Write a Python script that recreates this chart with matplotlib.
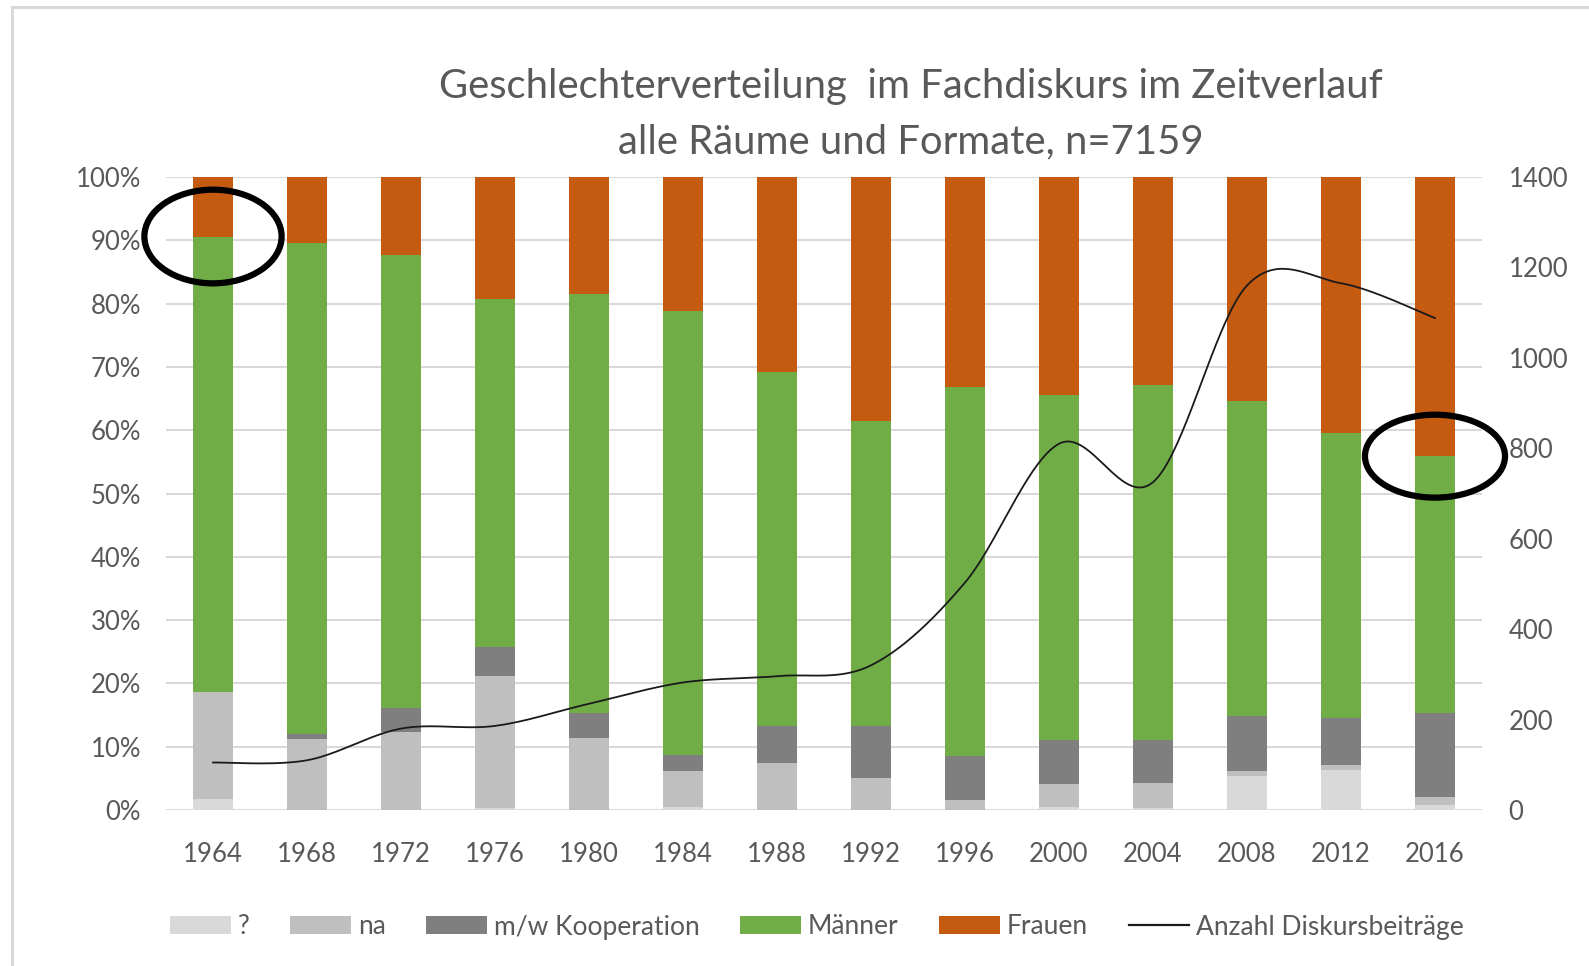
import numpy as np
import matplotlib
matplotlib.use("Agg")
import matplotlib.pyplot as plt
from matplotlib.patches import Ellipse, Patch
from matplotlib.lines import Line2D

# ---------------- data ----------------
years = ["1964", "1968", "1972", "1976", "1980", "1984", "1988",
         "1992", "1996", "2000", "2004", "2008", "2012", "2016"]
unknown = [1.7, 0.0, 0.0, 0.3, 0.0, 0.5, 0.0, 0.0, 0.0, 0.5, 0.3, 5.3, 6.3, 0.8]
na = [16.9, 11.2, 12.3, 20.8, 11.3, 5.7, 7.5, 5.0, 1.6, 3.6, 4.0, 0.9, 0.8, 1.2]
koop = [0.0, 0.8, 3.8, 4.7, 4.0, 2.5, 5.8, 8.3, 6.9, 6.9, 6.8, 8.6, 7.4, 13.3]
maenner = [72.0, 77.5, 71.6, 55.0, 66.2, 70.2, 55.9, 48.2, 58.4, 54.6, 56.0, 49.8, 45.1, 40.6]
frauen = [9.4, 10.5, 12.3, 19.2, 18.5, 21.1, 30.8, 38.5, 33.1, 34.4, 32.9, 35.4, 40.4, 44.1]
anzahl = [105, 110, 180, 186, 235, 282, 296, 320, 503, 810, 725, 1160, 1165, 1088]

series_names = ["?", "na", "m/w Kooperation", "Männer", "Frauen"]
line_name = "Anzahl Diskursbeiträge"
title = "Geschlechterverteilung  im Fachdiskurs im Zeitverlauf\nalle Räume und Formate, n=7159"

colors = ["#D9D9D9", "#BFBFBF", "#7F7F7F", "#70AD47", "#C55A11"]
text_col = "#595959"
grid_col = "#D9D9D9"

plt.rcParams['font.family'] = ['Lato', 'DejaVu Sans']

W, H = 1589, 966
fig = plt.figure(figsize=(W / 100, H / 100), dpi=100)
ax = fig.add_axes([166 / W, 1 - 810 / H, (1482 - 166) / W, (810 - 177) / H])

x = np.arange(len(years))
bw = 0.43
bottom = np.zeros(len(years))
handles = []
for vals, c, name in zip([unknown, na, koop, maenner, frauen], colors, series_names):
    v = np.array(vals, dtype=float)
    ax.bar(x, v, bw, bottom=bottom, color=c, zorder=2, linewidth=0)
    bottom += v
    handles.append(Patch(facecolor=c, edgecolor='none', label=name))

ax.set_xlim(-0.5, len(years) - 0.5)
ax.set_ylim(0, 100)
ax.set_yticks(np.arange(0, 101, 10))
ax.set_yticklabels([f"{v}%" for v in range(0, 101, 10)])
ax.set_xticks(x)
ax.set_xticklabels(years)
ax.yaxis.grid(True, color=grid_col, linewidth=1.5, zorder=0)
ax.set_axisbelow(True)
for s in ax.spines.values():
    s.set_visible(False)
ax.tick_params(axis='y', length=0, pad=18, labelsize=18.5, labelcolor=text_col)
ax.tick_params(axis='x', length=0, pad=23, labelsize=18.5, labelcolor=text_col)

# secondary axis with smoothed line
ax2 = ax.twinx()
ax2.set_ylim(0, 1400)
ax2.set_yticks(np.arange(0, 1401, 200))
for s in ax2.spines.values():
    s.set_visible(False)
ax2.tick_params(axis='y', length=0, pad=19, labelsize=18.5, labelcolor=text_col)


def catmull_rom(xs, ys, n=40):
    xs = np.asarray(xs, float)
    ys = np.asarray(ys, float)
    P = np.column_stack([xs, ys])
    P = np.vstack([P[0], P, P[-1]])
    out = []
    t = np.linspace(0, 1, n)
    for i in range(1, len(P) - 2):
        p0, p1, p2, p3 = P[i - 1], P[i], P[i + 1], P[i + 2]
        c1 = p1 + (p2 - p0) / 6.0
        c2 = p2 - (p3 - p1) / 6.0
        tt = t[:, None]
        seg = ((1 - tt) ** 3) * p1 + 3 * ((1 - tt) ** 2) * tt * c1 + 3 * (1 - tt) * tt ** 2 * c2 + tt ** 3 * p2
        out.append(seg if i == 1 else seg[1:])
    return np.vstack(out)


curve = catmull_rom(x, anzahl)
ax2.plot(curve[:, 0], curve[:, 1], color="#1a1a1a", linewidth=1.3, zorder=3)
handles.append(Line2D([0], [0], color="#1a1a1a", linewidth=1.6, label=line_name))

# annotation ellipses (hand-drawn marks in the reference)
top_m = np.cumsum(np.array([unknown, na, koop, maenner]), axis=0)[-1]
for idx, w_, h_ in [(0, 1.46, 14.8), (len(years) - 1, 1.49, 13.1)]:
    e = Ellipse((x[idx], top_m[idx]), w_, h_, transform=ax.transData,
                fill=False, edgecolor="black", linewidth=4.5, zorder=10, clip_on=False)
    ax2.add_patch(e)

fig.text(911 / W, 1 - 114 / H, title, ha='center', va='center', fontsize=28.8,
         color=text_col, linespacing=1.6)

leg = fig.legend(handles=handles, loc='center', bbox_to_anchor=(817 / W, 1 - 927 / H),
                 ncol=6, frameon=False, fontsize=19, handlelength=2.3, handleheight=0.65,
                 columnspacing=1.55, handletextpad=0.25, borderaxespad=0)
for t in leg.get_texts():
    t.set_color(text_col)

# outer chart border (top and left visible)
fig.add_artist(Line2D([12.5 / W, 12.5 / W], [0, 1 - 6.5 / H], transform=fig.transFigure,
                      color="#D9D9D9", linewidth=2.2))
fig.add_artist(Line2D([12.5 / W, 1], [1 - 6.5 / H, 1 - 6.5 / H], transform=fig.transFigure,
                      color="#D9D9D9", linewidth=2.2))

fig.savefig("out.png", dpi=100, facecolor="white")
